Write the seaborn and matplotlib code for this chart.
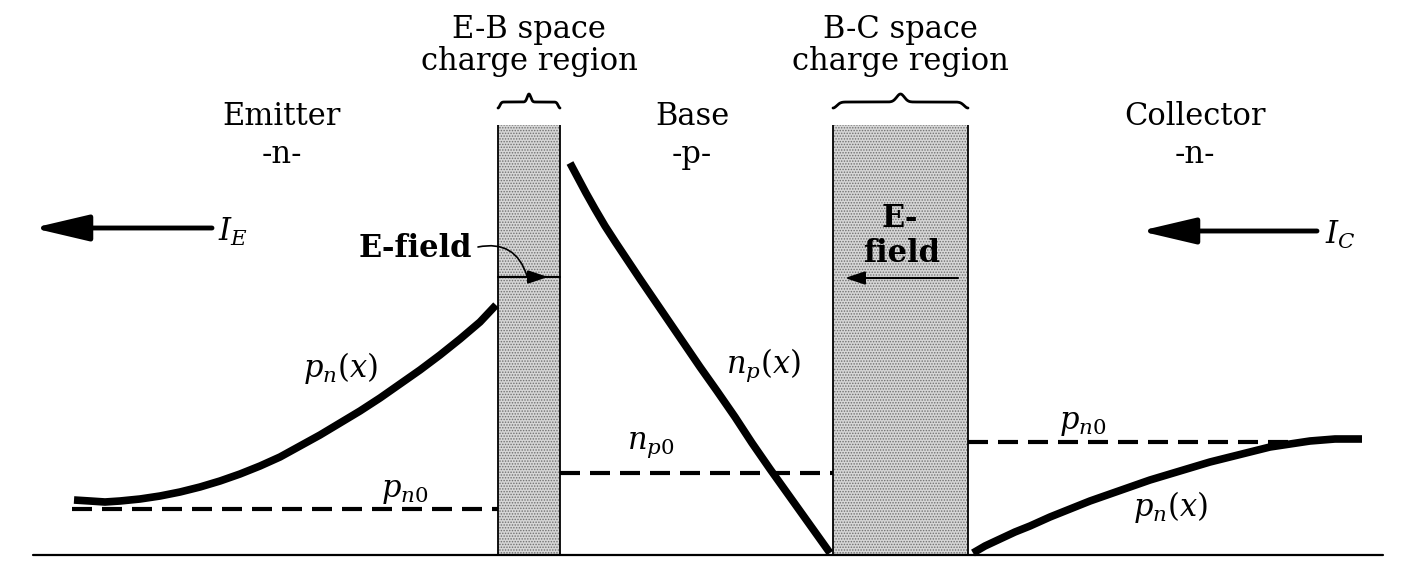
import numpy as np
import pandas as pd
import seaborn as sns
import matplotlib.pyplot as plt

# values (pixel space, y grows downward)
baseline_y = 555
baseline_x = [33, 1383]

# space charge regions: left edge, right edge, top
scr_names = ['E-B', 'B-C']
scr_left = [498, 833]
scr_right = [560, 968]
scr_top = [125, 125]

# minority carrier profiles
emitter_x = [74, 90, 105, 120, 140, 160, 180, 200, 220, 240, 260, 280, 300,
             320, 340, 360, 380, 400, 420, 440, 460, 480, 496]
emitter_y = [500, 501, 502, 501, 499, 496, 492, 487, 481, 474, 466, 457, 446,
             435, 423, 411, 398, 384, 370, 355, 339, 322, 305]
base_x = [570, 578, 586, 595, 605, 616, 628, 640, 655, 670, 685, 700, 717,
          735, 752, 770, 790, 810, 830]
base_y = [163, 178, 193, 209, 226, 243, 261, 279, 301, 323, 345, 367, 391,
          417, 443, 469, 497, 525, 553]
collector_x = [973, 985, 1000, 1015, 1030, 1050, 1070, 1090, 1110, 1130, 1150,
               1170, 1190, 1210, 1230, 1250, 1270, 1290, 1310, 1335, 1362]
collector_y = [553, 546, 539, 532, 526, 517, 509, 501, 494, 487, 480,
               474, 468, 462, 457, 452, 447, 444, 441, 439, 439]

# equilibrium levels (dashed): start, end, level
eq_start = [72, 560, 968]
eq_end = [498, 833, 1300]
eq_level = [509, 473, 442]

# region titles
region_names = ['Emitter', 'Base', 'Collector']
region_types = ['-n-', '-p-', '-n-']
region_cx = [282, 692, 1195]

sns.set_theme(style='white')
plt.rcParams['font.family'] = ['DejaVu Serif']
plt.rcParams['mathtext.fontset'] = 'dejavuserif'
plt.rcParams['text.color'] = 'black'
plt.rcParams['hatch.linewidth'] = 0.7

fig = plt.figure(figsize=(14.03, 5.66), dpi=100)
ax = fig.add_axes([0, 0, 1, 1])
ax.set_xlim(0, 1403)
ax.set_ylim(566, 0)
ax.axis('off')

FS = 22

# stippled space charge regions
for name, x0, x1, top in zip(scr_names, scr_left, scr_right, scr_top):
    ax.fill_between([x0, x1], top, baseline_y, facecolor='#d6d6d6',
                    edgecolor='#707070', hatch='......', linewidth=0)
    ax.vlines([x0, x1], top, baseline_y, colors='black', linewidth=1.3)
    # curly brace above the region
    t = np.linspace(0, 1, 200)
    by = 102 + 6 * np.exp(-(t / 0.04) ** 2) + 6 * np.exp(-((t - 1) / 0.04) ** 2) \
        - 8 * np.exp(-((t - 0.5) / 0.04) ** 2)
    ax.plot(x0 + (x1 - x0) * t, by, color='black', lw=2)
    ax.text((x0 + x1) / 2, 38, f'{name} space', ha='center', va='baseline', fontsize=FS)
    ax.text((x0 + x1) / 2, 70, 'charge region', ha='center', va='baseline', fontsize=FS)

# baseline
ax.plot(baseline_x, [baseline_y, baseline_y], color='black', lw=1.6)

# dashed equilibrium levels
eq = pd.DataFrame({'x0': eq_start, 'x1': eq_end, 'y': eq_level})
for _, r in eq.iterrows():
    sns.lineplot(x=[r.x0, r.x1], y=[r.y, r.y], ax=ax, color='black', lw=3,
                 linestyle=(0, (4.8, 2.4)), estimator=None, sort=False)

# carrier profiles
for xs, ys in [(emitter_x, emitter_y), (base_x, base_y), (collector_x, collector_y)]:
    sns.lineplot(x=xs, y=ys, ax=ax, color='black', lw=5.5, estimator=None, sort=False,
                 solid_capstyle='butt', solid_joinstyle='round')

# region titles
for n, tp, cx in zip(region_names, region_types, region_cx):
    ax.text(cx, 125, n, ha='center', va='baseline', fontsize=FS)
    ax.text(cx, 163, tp, ha='center', va='baseline', fontsize=FS)

# curve labels
ax.text(340, 368, '$p_n(x)$', ha='center', va='center', fontsize=FS)
ax.text(405, 490, '$p_{n0}$', ha='center', va='center', fontsize=FS)
ax.text(651, 445, '$n_{p0}$', ha='center', va='center', fontsize=FS)
ax.text(763, 365, '$n_p(x)$', ha='center', va='center', fontsize=FS)
ax.text(1083, 423, '$p_{n0}$', ha='center', va='center', fontsize=FS)
ax.text(1170, 507, '$p_n(x)$', ha='center', va='center', fontsize=FS)

# terminal currents
big_head = dict(arrowstyle='-|>,head_length=34,head_width=8', mutation_scale=1,
                color='black', lw=3.5, shrinkA=0, shrinkB=0)
ax.annotate('', xy=(33, 228), xytext=(212, 228), arrowprops=big_head)
ax.text(218, 232, '$I_E$', ha='left', va='center', fontsize=FS)
ax.annotate('', xy=(1140, 231), xytext=(1317, 231), arrowprops=big_head)
ax.text(1325, 235, '$I_C$', ha='left', va='center', fontsize=FS)

# electric fields
small_head = dict(arrowstyle='-|>,head_length=12,head_width=4', mutation_scale=1,
                  color='black', lw=1.5, shrinkA=0, shrinkB=0)
ax.text(472, 257, 'E-field', ha='right', va='baseline', fontsize=FS, fontweight='bold')
ax.annotate('', xy=(527, 276), xytext=(478, 247),
            arrowprops=dict(arrowstyle='-', color='black', lw=1.2,
                            connectionstyle='arc3,rad=-0.45', shrinkA=0, shrinkB=0))
ax.plot([498, 560], [277, 277], color='black', lw=1.5)
ax.annotate('', xy=(548, 277), xytext=(510, 277), arrowprops=small_head)

ax.text(900, 227, 'E-', ha='center', va='baseline', fontsize=FS, fontweight='bold')
ax.text(902, 262, 'field', ha='center', va='baseline', fontsize=FS, fontweight='bold')
ax.annotate('', xy=(845, 278), xytext=(958, 278), arrowprops=small_head)

fig.savefig('out.png', dpi=100, facecolor='white')
